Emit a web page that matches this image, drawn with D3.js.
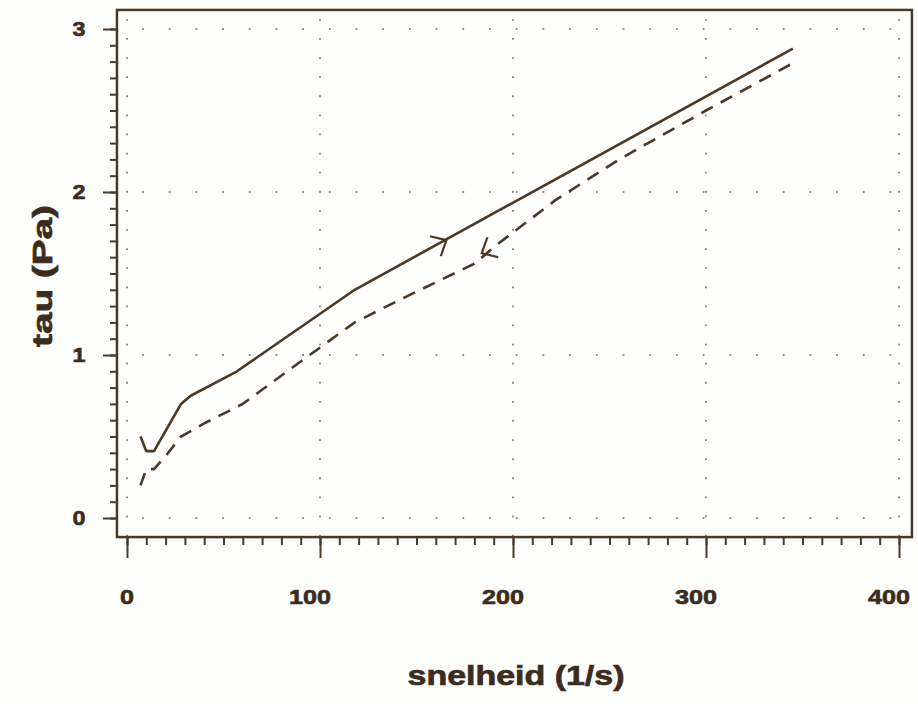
<!DOCTYPE html>
<html>
<head>
<meta charset="utf-8">
<script src="https://cdn.jsdelivr.net/npm/d3@7"></script>
<style>
  html, body { margin: 0; padding: 0; background: #fff; }
  svg { display: block; }
</style>
</head>
<body>
<script>
// --- Data ---
// up-curve (solid) and down-curve (dashed): [snelheid, tau]
const upCurve = [
  [7, 0.50], [10, 0.41], [14, 0.41], [28, 0.70], [33, 0.75],
  [57, 0.90], [118, 1.40], [345, 2.88]
];
const downCurve = [
  [7, 0.20], [10, 0.30], [14, 0.30], [20, 0.38], [28, 0.50], [40, 0.58],
  [60, 0.70], [90, 0.96], [118, 1.20], [145, 1.36], [180, 1.56],
  [192, 1.68], [222, 1.95], [255, 2.20], [300, 2.50], [345, 2.79]
];
// direction arrows: [x, y, direction] (+1 = forward along x, -1 = back)
const upArrow = [165.5, 1.705, 1];
const downArrow = [183.8, 1.624, -1];

const xTicks = [0, 100, 200, 300, 400];
const yTicks = [0, 1, 2, 3];
const xTitle = "snelheid (1/s)";
const yTitle = "tau (Pa)";

// --- Constants ---
const W = 918, H = 704;
const INK = "#4a3928";
const TEXT = "#3b2c1e";
const DOT = "#958a7c";
const FONT = "'Liberation Sans', Arial, sans-serif";

const x = d3.scaleLinear().domain([0, 400]).range([127, 899]);
const y = d3.scaleLinear().domain([0, 3]).range([518, 29]);

// frame extends a bit past the data range
const frame = { x0: x(-5.2), x1: x(406.7), y0: y(3.117), y1: y(-0.117) };

const svg = d3.select("body").append("svg")
  .attr("width", W).attr("height", H);

svg.append("rect")
  .attr("width", W).attr("height", H)
  .attr("fill", "#fefefc");

// --- Dotted grid ---
const grid = svg.append("g").attr("class", "grid");

grid.selectAll("line.v").data(xTicks).enter().append("line")
  .attr("class", "v")
  .attr("x1", d => x(d)).attr("x2", d => x(d))
  .attr("y1", frame.y0).attr("y2", frame.y1)
  .attr("stroke", DOT).attr("stroke-width", 2)
  .attr("stroke-dasharray", "1.8,17.3")
  .attr("stroke-dashoffset", -9);

grid.selectAll("line.h").data(yTicks).enter().append("line")
  .attr("class", "h")
  .attr("x1", frame.x0).attr("x2", frame.x1)
  .attr("y1", d => y(d)).attr("y2", d => y(d))
  .attr("stroke", DOT).attr("stroke-width", 2)
  .attr("stroke-dasharray", "1.8,24.9")
  .attr("stroke-dashoffset", -25);

// --- Frame ---
svg.append("rect")
  .attr("x", frame.x0).attr("y", frame.y0)
  .attr("width", frame.x1 - frame.x0).attr("height", frame.y1 - frame.y0)
  .attr("fill", "none").attr("stroke", INK).attr("stroke-width", 2.5);

// --- Axes (ticks hanging outside the frame) ---
const xMinor = svg.append("g")
  .attr("transform", `translate(0,${frame.y1})`)
  .call(d3.axisBottom(x).tickValues(d3.range(0, 401, 10)).tickSize(8).tickFormat(""));
const xMajor = svg.append("g")
  .attr("transform", `translate(0,${frame.y1})`)
  .call(d3.axisBottom(x).tickValues(xTicks).tickSize(21).tickFormat(""));
const yMinor = svg.append("g")
  .attr("transform", `translate(${frame.x0},0)`)
  .call(d3.axisLeft(y).tickValues(d3.range(0, 3.001, 0.1)).tickSize(7).tickFormat(""));
const yMajor = svg.append("g")
  .attr("transform", `translate(${frame.x0},0)`)
  .call(d3.axisLeft(y).tickValues(yTicks).tickSize(14).tickFormat(""));

[xMinor, xMajor, yMinor, yMajor].forEach(g => {
  g.select(".domain").remove();
  g.selectAll("line").attr("stroke", INK).attr("stroke-width", 2);
});

// tick labels (wide heavy face, stretched and thickened to match)
svg.append("g").selectAll("text").data(xTicks).enter().append("text")
  .attr("x", d => x(d) - 5 * (String(d).length - 1))
  .attr("y", 604)
  .attr("text-anchor", "middle")
  .attr("font-family", FONT).attr("font-size", 20).attr("font-weight", "bold")
  .attr("fill", TEXT).attr("stroke", TEXT).attr("stroke-width", 0.6)
  .attr("textLength", d => 14 * String(d).length)
  .attr("lengthAdjust", "spacingAndGlyphs")
  .text(d => d);

svg.append("g").selectAll("text").data(yTicks).enter().append("text")
  .attr("x", 79)
  .attr("y", d => y(d) + 7)
  .attr("text-anchor", "middle")
  .attr("font-family", FONT).attr("font-size", 20).attr("font-weight", "bold")
  .attr("fill", TEXT).attr("stroke", TEXT).attr("stroke-width", 0.6)
  .attr("textLength", 13)
  .attr("lengthAdjust", "spacingAndGlyphs")
  .text(d => d);

// axis titles
svg.append("text")
  .attr("x", 516).attr("y", 685)
  .attr("text-anchor", "middle")
  .attr("font-family", FONT).attr("font-size", 28).attr("font-weight", "bold")
  .attr("fill", TEXT).attr("stroke", TEXT).attr("stroke-width", 0.7)
  .attr("textLength", 217).attr("lengthAdjust", "spacingAndGlyphs")
  .text(xTitle);

svg.append("text")
  .attr("transform", "translate(52,276) rotate(-90)")
  .attr("text-anchor", "middle")
  .attr("font-family", FONT).attr("font-size", 28).attr("font-weight", "bold")
  .attr("fill", TEXT).attr("stroke", TEXT).attr("stroke-width", 0.7)
  .attr("textLength", 142).attr("lengthAdjust", "spacingAndGlyphs")
  .text(yTitle);

// --- Curves ---
const line = d3.line().x(d => x(d[0])).y(d => y(d[1]));

svg.append("path")
  .datum(upCurve)
  .attr("d", line)
  .attr("fill", "none").attr("stroke", INK).attr("stroke-width", 2.6)
  .attr("stroke-linejoin", "round");

svg.append("path")
  .datum(downCurve)
  .attr("d", line)
  .attr("fill", "none").attr("stroke", INK).attr("stroke-width", 2.6)
  .attr("stroke-dasharray", "13,9");

// open chevron arrowheads along the curves
function arrowHead(p, curve) {
  const a = curve[curve.length - 2], b = curve[curve.length - 1];
  const ang = Math.atan2(y(b[1]) - y(a[1]), x(b[0]) - x(a[0]));
  const back = p[2] > 0 ? ang + Math.PI : ang;
  const tx = x(p[0]), ty = y(p[1]);
  const len = 17, spread = 42 * Math.PI / 180;
  const pts = [
    [tx + len * Math.cos(back - spread), ty + len * Math.sin(back - spread)],
    [tx, ty],
    [tx + len * Math.cos(back + spread), ty + len * Math.sin(back + spread)]
  ];
  svg.append("path")
    .attr("d", d3.line()(pts))
    .attr("fill", "none").attr("stroke", INK).attr("stroke-width", 2.2)
    .attr("stroke-linejoin", "miter");
}

arrowHead(upArrow, upCurve);
arrowHead(downArrow, downCurve);
</script>
</body>
</html>
